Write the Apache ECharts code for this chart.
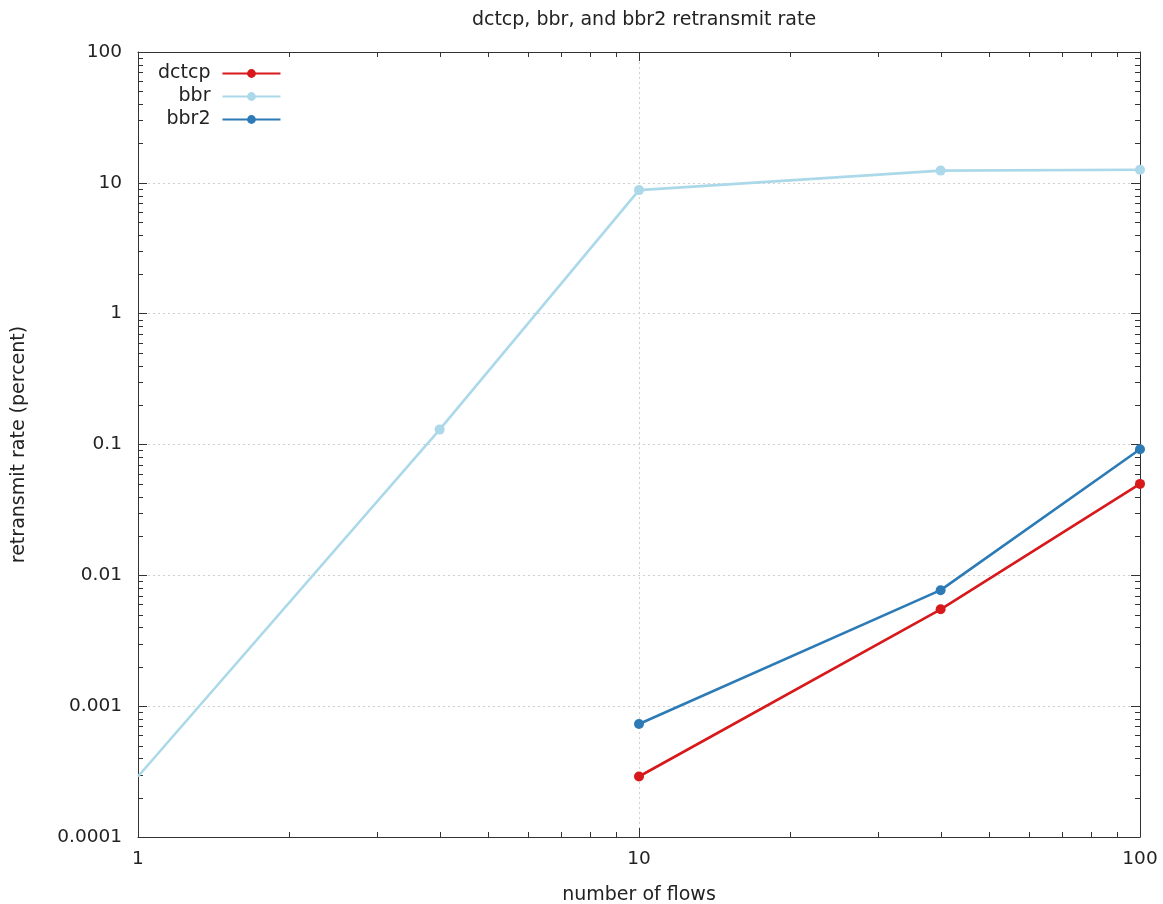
<!DOCTYPE html>
<html>
<head>
<meta charset="utf-8">
<script src="https://cdn.jsdelivr.net/npm/echarts@6/dist/echarts.min.js"></script>
<style>
  html, body { margin: 0; padding: 0; background: #fff; }
  #main { width: 1163px; height: 904px; }
</style>
</head>
<body>
<div id="main"></div>
<script>
// data (log-log)
var flows = [1, 4, 10, 40, 100];
var dctcp = [null, null, 0.00029, 0.0055, 0.050];
var bbr = [0.00029, 0.13, 8.8, 12.4, 12.6];
var bbr2 = [null, null, 0.00073, 0.0077, 0.092];
var seriesNames = ['dctcp', 'bbr', 'bbr2'];
var colors = ['#d7191c', '#abd9e9', '#2c7bb6'];
var xMin = 1, xMax = 100;
var yMin = 0.0001, yMax = 100;

var font = 'DejaVu Sans';
var ink = '#222';
var axisColor = '#333';

function pairs(ys) {
  var out = [];
  for (var i = 0; i < flows.length; i++) {
    if (ys[i] == null) continue;
    var item = { value: [flows[i], ys[i]] };
    // point sitting on the left border is clipped in the original
    if (flows[i] === xMin) item.symbol = 'none';
    out.push(item);
  }
  return out;
}

function fmt(v) {
  return String(Number(Number(v).toPrecision(6)));
}

var chart = echarts.init(document.getElementById('main'));

var logX = function (pos, extra) {
  return Object.assign({
    type: 'log', logBase: 10, min: xMin, max: xMax, splitNumber: 2,
    position: pos, gridIndex: 0,
    axisLine: { show: true, lineStyle: { color: axisColor, width: 1 } },
    axisTick: { show: true, inside: true, length: 9, lineStyle: { color: axisColor } },
    axisLabel: { show: false },
    splitLine: { show: false }
  }, extra);
};
var logY = function (pos, extra) {
  return Object.assign({
    type: 'log', logBase: 10, min: yMin, max: yMax, splitNumber: 6,
    position: pos, gridIndex: 0,
    axisLine: { show: true, lineStyle: { color: axisColor, width: 1 } },
    axisTick: { show: true, inside: true, length: 9, lineStyle: { color: axisColor } },
    axisLabel: { show: false },
    splitLine: { show: false }
  }, extra);
};

var option = {
  animation: false,
  backgroundColor: '#fff',
  color: colors,
  textStyle: { fontFamily: font, color: ink },
  title: {
    text: 'dctcp, bbr, and bbr2 retransmit rate',
    left: 639, textAlign: 'center', top: 6,
    textStyle: { fontFamily: font, fontSize: 19, fontWeight: 'normal', color: ink }
  },
  legend: {
    orient: 'vertical', align: 'right',
    left: 158, top: 64, padding: 0,
    itemWidth: 58, itemHeight: 11, itemGap: 4,
    textStyle: { fontFamily: font, fontSize: 19, color: ink, padding: [0, 7, 0, 0] },
    data: seriesNames
  },
  grid: { left: 138, right: 23, top: 52, bottom: 67, containLabel: false, outerBoundsMode: 'none' },
  xAxis: [
    logX('bottom', {
      name: 'number of flows', nameLocation: 'middle', nameGap: 49,
      nameTextStyle: { fontFamily: font, fontSize: 19, color: ink },
      axisLabel: { show: true, margin: 13, fontFamily: font, fontSize: 18.5, color: ink, formatter: fmt },
      splitLine: { show: true, lineStyle: { color: '#d0d0d0', type: [2, 3], width: 1 } }
    }),
    logX('top')
  ],
  yAxis: [
    logY('left', {
      name: 'retransmit rate (percent)', nameLocation: 'middle', nameGap: 109, nameRotate: 90,
      nameTextStyle: { fontFamily: font, fontSize: 19, color: ink },
      axisLabel: { show: true, margin: 16, fontFamily: font, fontSize: 18.5, color: ink, formatter: fmt },
      splitLine: { show: true, lineStyle: { color: '#d0d0d0', type: [2, 3], width: 1 } }
    }),
    logY('right')
  ],
  series: [
    { name: 'dctcp', data: pairs(dctcp) },
    { name: 'bbr', data: pairs(bbr) },
    { name: 'bbr2', data: pairs(bbr2) }
  ].map(function (s, i) {
    return Object.assign({
      type: 'line', xAxisIndex: 0, yAxisIndex: 0,
      symbol: 'circle', symbolSize: 10, showSymbol: true,
      lineStyle: { width: 2.6, color: colors[i] },
      itemStyle: { color: colors[i] },
      emphasis: { disabled: true }
    }, s);
  })
};

chart.setOption(option);

// log minor ticks (2..9 per decade) on all four borders
function minorTicks() {
  var els = [];
  var x0 = chart.convertToPixel({ xAxisIndex: 0 }, xMin);
  var x1 = chart.convertToPixel({ xAxisIndex: 0 }, xMax);
  var yb = chart.convertToPixel({ yAxisIndex: 0 }, yMin);
  var yt = chart.convertToPixel({ yAxisIndex: 0 }, yMax);
  var len = 5;
  var st = { stroke: axisColor, lineWidth: 1 };
  var d, m, v, p;
  for (d = xMin; d < xMax; d *= 10) {
    for (m = 2; m <= 9; m++) {
      v = d * m;
      p = Math.round(chart.convertToPixel({ xAxisIndex: 0 }, v)) + 0.5;
      els.push({ type: 'line', shape: { x1: p, y1: yb, x2: p, y2: yb - len }, style: st, silent: true });
      els.push({ type: 'line', shape: { x1: p, y1: yt, x2: p, y2: yt + len }, style: st, silent: true });
    }
  }
  for (d = yMin; d < yMax * 0.99; d *= 10) {
    for (m = 2; m <= 9; m++) {
      v = d * m;
      p = Math.round(chart.convertToPixel({ yAxisIndex: 0 }, v)) + 0.5;
      els.push({ type: 'line', shape: { x1: x0, y1: p, x2: x0 + len, y2: p }, style: st, silent: true });
      els.push({ type: 'line', shape: { x1: x1, y1: p, x2: x1 - len, y2: p }, style: st, silent: true });
    }
  }
  chart.setOption({ graphic: { elements: els } });
}
minorTicks();
</script>
</body>
</html>
